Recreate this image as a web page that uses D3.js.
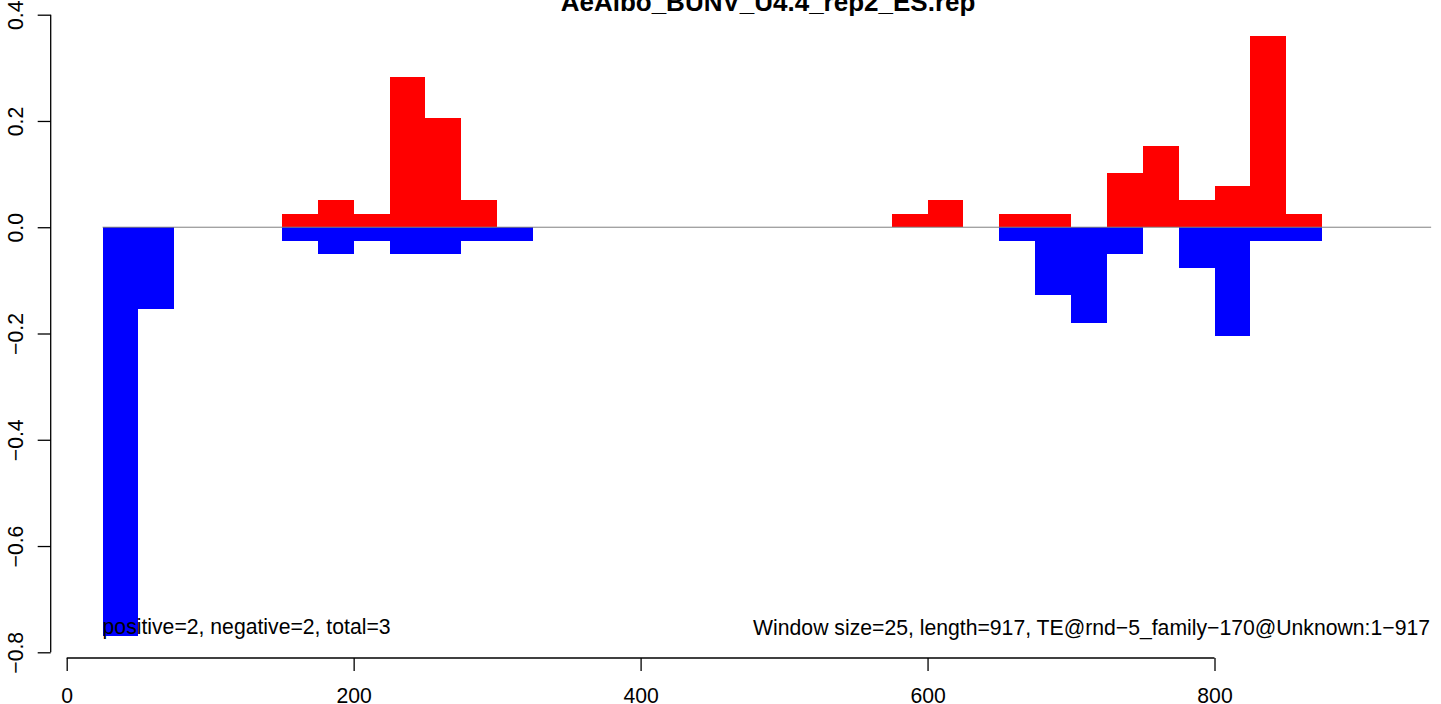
<!DOCTYPE html>
<html>
<head>
<meta charset="utf-8">
<script src="https://cdn.jsdelivr.net/npm/d3@7/dist/d3.min.js"></script>
<style>
  html, body { margin: 0; padding: 0; background: #fff; }
  svg { display: block; font-family: "Liberation Sans", Arial, Helvetica, sans-serif; }
</style>
</head>
<body>
<svg id="chart" width="1441" height="704"></svg>
<script>
// ---- data ----
const title = "AeAlbo_BUNV_U4.4_rep2_ES.rep";
const windowStarts = [25, 50, 150, 175, 200, 225, 250, 275, 300, 575, 600, 650, 675, 700, 725, 750, 775, 800, 825, 850];
const positiveValues = [0, 0, 0.0256, 0.0513, 0.0256, 0.2821, 0.2051, 0.0513, 0, 0.0256, 0.0513, 0.0256, 0.0256, 0, 0.1026, 0.1538, 0.0513, 0.0769, 0.359, 0.0256];
const negativeValues = [-0.7692, -0.1538, -0.0256, -0.0513, -0.0256, -0.0513, -0.0513, -0.0256, -0.0256, 0, 0, -0.0256, -0.1282, -0.1795, -0.0513, 0, -0.0769, -0.2051, -0.0256, -0.0256];
const windowSize = 25;
const xTicks = [0, 200, 400, 600, 800];
const yTicks = [-0.8, -0.6, -0.4, -0.2, 0.0, 0.2, 0.4];
const zeroLineRange = [25, 951];
const leftNote = "positive=2, negative=2, total=3";
const rightNote = "Window size=25, length=917, TE@rnd\u22125_family\u2212170@Unknown:1\u2212917";

// ---- layout ----
const svg = d3.select("#chart");
const x = d3.scaleLinear().domain([0, 800]).range([66.7, 1214.5]);
const y = d3.scaleLinear().domain([-0.8, 0.4]).range([652.3, 14.7]);
const yAxisX = 50.7;
const xAxisY = 658;
const fontSize = 21.2;

const bins = windowStarts.map((s, i) => ({ s, pos: positiveValues[i], neg: negativeValues[i] }));

// positive bars
svg.append("g").selectAll("rect").data(bins.filter(d => d.pos > 0)).join("rect")
  .attr("x", d => x(d.s))
  .attr("width", d => x(d.s + windowSize) - x(d.s))
  .attr("y", d => y(d.pos))
  .attr("height", d => y(0) - y(d.pos))
  .attr("fill", "#ff0000")
  .attr("shape-rendering", "crispEdges");

// negative bars
svg.append("g").selectAll("rect").data(bins.filter(d => d.neg < 0)).join("rect")
  .attr("x", d => x(d.s))
  .attr("width", d => x(d.s + windowSize) - x(d.s))
  .attr("y", y(0))
  .attr("height", d => y(d.neg) - y(0))
  .attr("fill", "#0000ff")
  .attr("shape-rendering", "crispEdges");

// zero line
svg.append("line")
  .attr("x1", x(zeroLineRange[0])).attr("x2", x(zeroLineRange[1]))
  .attr("y1", y(0)).attr("y2", y(0))
  .attr("stroke", "#808080").attr("stroke-width", 1);

// x axis
const xAxis = d3.axisBottom(x).tickValues(xTicks).tickFormat(d3.format("d")).tickSize(13).tickPadding(17);
const gx = svg.append("g").attr("transform", `translate(0,${xAxisY})`).call(xAxis);
gx.select(".domain").attr("d", `M${x(xTicks[0])},0H${x(xTicks[xTicks.length - 1])}`).attr("stroke", "#000").attr("stroke-width", 1.3);
gx.selectAll(".tick line").attr("stroke", "#000").attr("stroke-width", 1.3);
gx.selectAll(".tick text").attr("font-size", fontSize).attr("font-family", "Liberation Sans, Arial, sans-serif").attr("fill", "#000");

// y axis
const yAxis = d3.axisLeft(y).tickValues(yTicks).tickFormat(d3.format(".1f")).tickSize(13).tickPadding(8);
const gy = svg.append("g").attr("transform", `translate(${yAxisX},0)`).call(yAxis);
gy.select(".domain").attr("d", `M0,${y(yTicks[0])}V${y(yTicks[yTicks.length - 1])}`).attr("stroke", "#000").attr("stroke-width", 1.3);
gy.selectAll(".tick line").attr("stroke", "#000").attr("stroke-width", 1.3);
gy.selectAll(".tick text")
  .attr("font-size", fontSize).attr("font-family", "Liberation Sans, Arial, sans-serif").attr("fill", "#000")
  .text(d => d3.format(".1f")(d).replace("-", "\u2212"))
  .attr("text-anchor", "middle").attr("dy", null).attr("x", null)
  .attr("transform", "translate(-35,0) rotate(-90)")
  .attr("dominant-baseline", "central");

// title
svg.append("text").attr("x", 768).attr("y", 10.5).attr("text-anchor", "middle")
  .attr("font-size", 26).attr("font-weight", "bold").text(title);

// notes
svg.append("text").attr("x", x(25)).attr("y", 634).attr("font-size", fontSize).text(leftNote);
svg.append("text").attr("x", 1430).attr("y", 635).attr("text-anchor", "end").attr("font-size", fontSize).text(rightNote);
</script>
</body>
</html>
